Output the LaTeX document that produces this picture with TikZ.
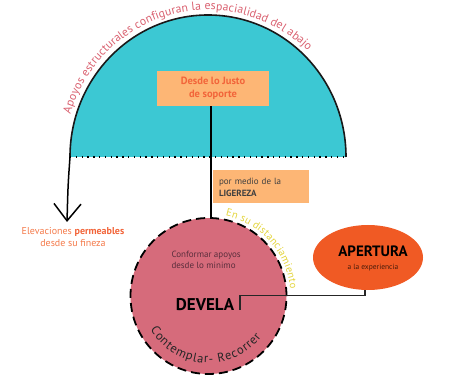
\documentclass[tikz,border=0pt]{standalone}
\usepackage{fontspec}
\setmainfont{PT Sans}
\usetikzlibrary{decorations.text,arrows.meta,shapes.geometric,calc}
\definecolor{domecyan}{HTML}{3CC8D3}
\definecolor{boxorange}{HTML}{FDB675}
\definecolor{boxtext}{HTML}{F2653A}
\definecolor{circpink}{HTML}{D66B7B}
\definecolor{apert}{HTML}{F05A24}
\definecolor{yelltext}{HTML}{E3D43A}
\definecolor{dometext}{HTML}{D9606F}
\definecolor{elevtext}{HTML}{F47A4A}
\definecolor{darkplum}{HTML}{5A2E3C}
\tikzset{
  softbox/.style={fill=boxorange, inner sep=0pt},
  connline/.style={line width=1.5pt, black},
  thinconn/.style={line width=1.2pt, black!85},
}
\begin{document}
\begin{tikzpicture}[x=1pt,y=1pt]
\useasboundingbox (0,0) rectangle (475,375);
% dome
\coordinate (domeleft) at (70,218);
\coordinate (domeright) at (346,218);
\fill[domecyan] (domeleft) arc[start angle=180,end angle=0,x radius=138,y radius=142] -- cycle;
\draw[line width=1.6pt, black!90] (domeleft) arc[start angle=180,end angle=0,x radius=138,y radius=142];
\draw[line width=1.4pt, dash pattern=on 1.4pt off 4.4pt] (domeleft) -- (domeright);
% curved dome text
\path[decorate, decoration={text along path, text align={fit to path},
  text={|\fontsize{11.8}{14}\selectfont\color{dometext}|Apoyos estructurales configuran la espacialidad del abajo}}]
  (208,218) ++(163:144 and 147) arc[start angle=163,end angle=46,x radius=144,y radius=147];
% arrow down left
\coordinate (arrowtip) at (67,153);
\draw[line width=1.5pt, -{Straight Barb[length=17pt,width=27pt,line width=1.5pt]}] (domeleft) .. controls (68,190) .. (arrowtip);
\node[align=center, text=elevtext, font=\fontsize{10}{12}\selectfont] (elev) at (73,138)
  {Elevaciones \textbf{\color{boxtext}permeables}\\desde su fineza};
% box desde lo justo
\node[softbox, minimum width=112pt, minimum height=35pt, align=center,
  text=boxtext, font=\fontsize{10.5}{13}\selectfont\bfseries] (justo) at (213,286.5)
  {Desde lo Justo\\de soporte};
% circle
\node[circle, fill=circpink, draw=black, line width=1.8pt, dash pattern=on 9pt off 5pt,
  minimum size=156pt, inner sep=0pt] (circ) at (208.5,79) {};
% ligereza box
\node[softbox, minimum width=96pt, minimum height=33pt, text width=84pt, align=left,
  inner xsep=6pt, font=\fontsize{9}{12}\selectfont] (lig) at (261,188)
  {\color{black!75}por medio de la\\\textbf{LIGEREZA}};
% vertical connector
\draw[connline] ([xshift=-2pt]justo.south) -- ([xshift=-2pt]justo.south |- circ.north);
% circle texts
\path[decorate, decoration={text along path, text align={fit to path},
  text={|\fontsize{10.5}{13}\selectfont\color{yelltext}|En su distanciamiento}}]
  (208.5,79) ++(78:82) arc[start angle=78,end angle=5,radius=82];
\path[decorate, decoration={text along path, text align={fit to path},
  text={|\fontsize{12.5}{15}\selectfont\color{black!85}|Contemplar- Recorrer}}]
  (208.5,79) ++(210:67) arc[start angle=210,end angle=322,radius=67];
\node[anchor=west, align=left, text=darkplum, font=\fontsize{9}{11}\selectfont] (conf) at (168,115.5)
  {Conformar apoyos\\desde lo minimo};
\node[font=\fontsize{17}{20}\selectfont\bfseries, text=black] (devela) at (205,70) {DEVELA};
% apertura
\node[ellipse, fill=apert, minimum width=110pt, minimum height=65pt, inner sep=0pt] (ap) at (368,117.5) {};
\node[font=\fontsize{15}{18}\selectfont\bfseries, text=black] (apt) at (373,124) {APERTURA};
\node[font=\fontsize{7.5}{9}\selectfont, text=black!70!apert] (apsub) at (373,107.5) {a la experiencia};
\coordinate (devend) at (240,65);
\draw[thinconn] ([xshift=-3pt]ap.south) -- ++(0,-5) -| (devend);
\end{tikzpicture}
\end{document}
